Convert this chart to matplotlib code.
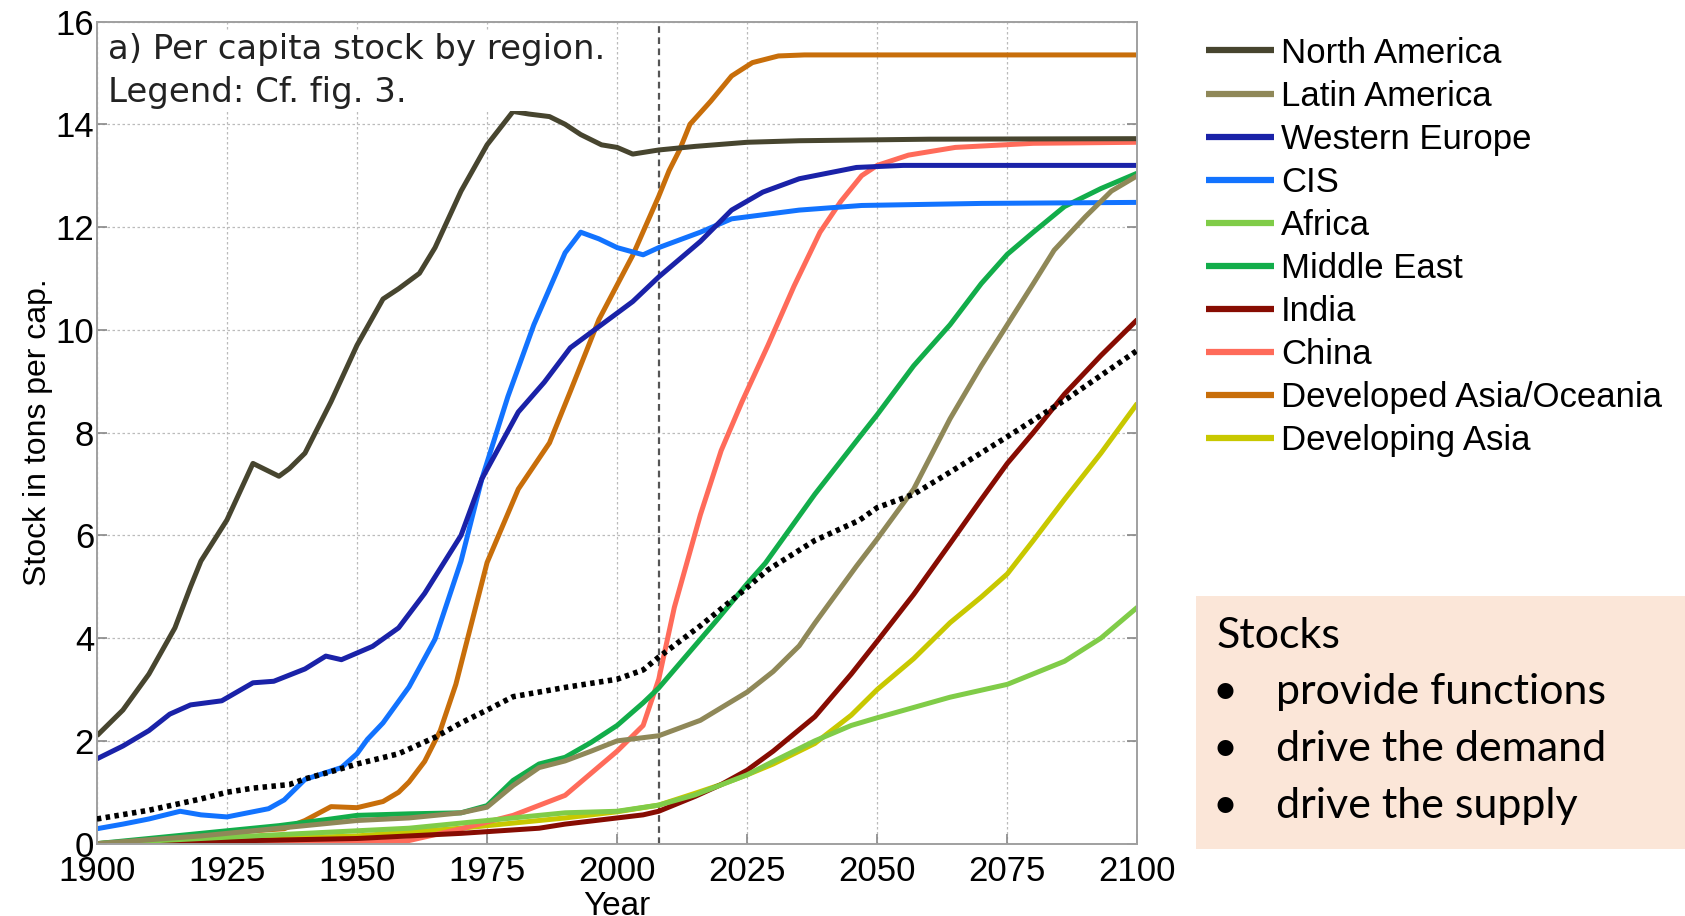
import matplotlib
matplotlib.use("Agg")
import matplotlib.pyplot as plt
from matplotlib.patches import Rectangle


# per capita stock in tons
NA_YEARS = [1900, 1905, 1910, 1915, 1918, 1920, 1925, 1930, 1932, 1935, 1937,
            1940, 1945, 1950, 1955, 1958, 1962, 1965, 1970, 1975, 1980, 1983,
            1987, 1990, 1993, 1997, 2000, 2003, 2008, 2015, 2025, 2035, 2060, 2100]
NA_VALUES = [2.1, 2.6, 3.3, 4.2, 5.0, 5.5, 6.3, 7.4, 7.3, 7.15, 7.3,
             7.6, 8.6, 9.7, 10.6, 10.8, 11.1, 11.6, 12.7, 13.6, 14.25, 14.2,
             14.15, 14.0, 13.8, 13.6, 13.55, 13.42, 13.5, 13.57, 13.65, 13.68, 13.71, 13.72]

LA_YEARS = [1900, 1920, 1940, 1950, 1960, 1970, 1975, 1980, 1985, 1990, 1995,
            2000, 2008, 2016, 2025, 2030, 2035, 2038, 2046, 2050, 2057, 2064,
            2070, 2075, 2080, 2084, 2090, 2095, 2100]
LA_VALUES = [0.0, 0.15, 0.35, 0.45, 0.5, 0.6, 0.71, 1.13, 1.48, 1.61, 1.8,
             2.0, 2.1, 2.4, 2.95, 3.35, 3.85, 4.29, 5.4, 5.93, 6.9, 8.27,
             9.3, 10.1, 10.9, 11.55, 12.2, 12.7, 13.0]

WE_YEARS = [1900, 1905, 1910, 1914, 1918, 1924, 1930, 1934, 1940, 1944, 1947,
            1953, 1958, 1963, 1970, 1974, 1981, 1986, 1991, 1995, 2003, 2008,
            2016, 2022, 2028, 2035, 2046, 2055, 2100]
WE_VALUES = [1.65, 1.9, 2.2, 2.52, 2.7, 2.78, 3.13, 3.16, 3.4, 3.65, 3.58,
             3.84, 4.2, 4.87, 6.0, 7.1, 8.4, 8.98, 9.65, 9.95, 10.55, 11.03,
             11.72, 12.33, 12.68, 12.94, 13.16, 13.2, 13.2]

CIS_YEARS = [1900, 1905, 1910, 1916, 1920, 1925, 1933, 1936, 1940, 1947, 1950,
             1952, 1955, 1960, 1965, 1970, 1974, 1979, 1984, 1990, 1993, 1996.5,
             2000, 2005, 2008, 2016, 2022, 2035, 2047, 2070, 2100]
CIS_VALUES = [0.29, 0.38, 0.48, 0.63, 0.56, 0.52, 0.68, 0.85, 1.25, 1.48, 1.75,
              2.03, 2.35, 3.05, 3.98, 5.5, 7.1, 8.7, 10.1, 11.5, 11.9, 11.77,
              11.6, 11.46, 11.6, 11.9, 12.16, 12.33, 12.42, 12.46, 12.48]

AF_YEARS = [1900, 1920, 1940, 1960, 1980, 1990, 2000, 2008, 2015, 2025, 2030,
            2038, 2045, 2050, 2064, 2075, 2086, 2093, 2100]
AF_VALUES = [0.0, 0.1, 0.2, 0.3, 0.5, 0.6, 0.63, 0.75, 0.95, 1.34, 1.6,
             2.0, 2.3, 2.45, 2.85, 3.1, 3.55, 4.0, 4.6]

ME_YEARS = [1900, 1920, 1935, 1945, 1950, 1960, 1970, 1975, 1980, 1985, 1990,
            1995, 2000, 2005, 2008, 2019, 2025, 2028.5, 2038, 2046.5, 2050,
            2057, 2064, 2070, 2075, 2080, 2086, 2093, 2100]
ME_VALUES = [0.0, 0.2, 0.35, 0.48, 0.55, 0.58, 0.6, 0.74, 1.23, 1.55, 1.68,
             1.97, 2.3, 2.74, 3.03, 4.33, 5.06, 5.46, 6.8, 7.9, 8.35,
             9.3, 10.1, 10.9, 11.47, 11.9, 12.4, 12.75, 13.05]

IN_YEARS = [1900, 1950, 1970, 1985, 1990, 2000, 2005, 2008, 2015, 2020, 2025,
            2030, 2038, 2045, 2050, 2057, 2064, 2070, 2075, 2080, 2086, 2093, 2100]
IN_VALUES = [0.0, 0.1, 0.2, 0.3, 0.38, 0.5, 0.56, 0.63, 0.92, 1.15, 1.43,
             1.8, 2.47, 3.3, 3.94, 4.85, 5.84, 6.7, 7.4, 8.0, 8.75, 9.5, 10.2]

CN_YEARS = [1900, 1950, 1960, 1970, 1980, 1990, 2000, 2005, 2008, 2011, 2016,
            2020, 2024, 2029, 2034, 2039, 2043, 2047, 2050, 2056, 2065, 2080, 2100]
CN_VALUES = [0.0, 0.02, 0.06, 0.29, 0.55, 0.94, 1.8, 2.3, 3.2, 4.6, 6.4,
             7.65, 8.6, 9.7, 10.85, 11.9, 12.5, 13.0, 13.2, 13.4, 13.55, 13.63, 13.65]

DA_YEARS = [1900, 1910, 1920, 1930, 1936, 1940, 1945, 1950, 1955, 1958, 1960,
            1963, 1966, 1969, 1975, 1981, 1987, 1991, 1996.5, 2003, 2008, 2010,
            2012, 2014, 2018, 2022, 2026, 2031, 2036, 2100]
DA_VALUES = [0.0, 0.05, 0.15, 0.25, 0.29, 0.45, 0.72, 0.7, 0.82, 1.0, 1.2,
             1.6, 2.2, 3.1, 5.47, 6.9, 7.8, 8.8, 10.2, 11.45, 12.6, 13.1,
             13.5, 14.0, 14.45, 14.94, 15.2, 15.33, 15.35, 15.35]

DV_YEARS = [1900, 1950, 1970, 1990, 2000, 2008, 2015, 2020, 2025, 2030, 2038,
            2045, 2050, 2057, 2064, 2070, 2075, 2080, 2086, 2093, 2100]
DV_VALUES = [0.0, 0.15, 0.3, 0.5, 0.62, 0.75, 0.98, 1.15, 1.34, 1.55, 1.95,
             2.5, 3.0, 3.6, 4.3, 4.8, 5.25, 5.9, 6.7, 7.6, 8.57]

WORLD_YEARS = [1900, 1910, 1920, 1925, 1930, 1937, 1940, 1945, 1950, 1958, 1965,
               1970, 1975, 1980, 1990, 2000, 2005, 2008, 2016, 2024, 2029, 2038,
               2046.5, 2050, 2057, 2064, 2075, 2086.5, 2100]
WORLD_VALUES = [0.48, 0.65, 0.87, 1.0, 1.08, 1.15, 1.26, 1.4, 1.55, 1.75, 2.07,
                2.35, 2.6, 2.86, 3.04, 3.2, 3.38, 3.63, 4.24, 4.9, 5.33, 5.9,
                6.29, 6.54, 6.8, 7.23, 7.92, 8.66, 9.6]

REGIONS = [
    ("North America", NA_YEARS, NA_VALUES, "#47452f"),
    ("Latin America", LA_YEARS, LA_VALUES, "#8f8858"),
    ("Western Europe", WE_YEARS, WE_VALUES, "#1a22a8"),
    ("CIS", CIS_YEARS, CIS_VALUES, "#1273ff"),
    ("Africa", AF_YEARS, AF_VALUES, "#80cc48"),
    ("Middle East", ME_YEARS, ME_VALUES, "#12ad4a"),
    ("India", IN_YEARS, IN_VALUES, "#870c02"),
    ("China", CN_YEARS, CN_VALUES, "#ff6b5a"),
    ("Developed Asia/Oceania", DA_YEARS, DA_VALUES, "#c86e0a"),
    ("Developing Asia", DV_YEARS, DV_VALUES, "#c8c800"),
]

X_TICKS = [1900, 1925, 1950, 1975, 2000, 2025, 2050, 2075, 2100]
Y_TICKS = [0, 2, 4, 6, 8, 10, 12, 14, 16]
MARK_YEAR = 2008

BULLETS = ["provide functions", "drive the demand", "drive the supply"]


def main():
    plt.rcParams["font.family"] = ["Liberation Sans", "DejaVu Sans"]

    fig = plt.figure(figsize=(16.85, 9.16), dpi=100)
    ax = fig.add_axes([0.0575, 0.079, 0.6175, 0.8975])

    handles = []
    # draw in reverse order so North America sits on top
    for name, years, values, color in reversed(REGIONS):
        (line,) = ax.plot(years, values, color=color, linewidth=3.6,
                          label=name, solid_capstyle="butt",
                          solid_joinstyle="round")
        handles.insert(0, line)

    ax.plot(WORLD_YEARS, WORLD_VALUES, color="black", linewidth=4,
            linestyle=(0, (0.8, 0.8)), zorder=5)

    ax.axvline(MARK_YEAR, color="#555555", linewidth=1.6,
               linestyle=(0, (3, 2)), zorder=1)

    ax.set_xlim(X_TICKS[0], X_TICKS[-1])
    ax.set_ylim(Y_TICKS[0], Y_TICKS[-1])
    ax.set_xticks(X_TICKS)
    ax.set_yticks(Y_TICKS)
    ax.tick_params(direction="in", length=7, width=1.2, color="#888888",
                   labelsize=25, top=False, right=True, pad=2)
    ax.tick_params(axis="x", pad=8)
    ax.grid(True, color="#bbbbbb", linestyle=(0, (2, 2)), linewidth=0.9)
    ax.set_axisbelow(True)

    for spine in ax.spines.values():
        spine.set_color("#a0a0a0")
        spine.set_linewidth(1.4)

    ax.set_ylabel("Stock in tons per cap.", fontsize=23, labelpad=2)
    ax.set_xlabel("Year", fontsize=24, labelpad=2)

    ax.text(0.011, 0.986, "a) Per capita stock by region.\nLegend: Cf. fig. 3.",
            transform=ax.transAxes, ha="left", va="top", fontsize=24.5,
            family="DejaVu Sans", color="#222222", linespacing=1.4,
            bbox=dict(facecolor="white", edgecolor="none", pad=1))

    fig.legend(handles=handles, loc="upper left",
               bbox_to_anchor=(0.716, 0.96), frameon=False, fontsize=25,
               handlelength=1.95, handletextpad=0.2, labelspacing=0.29,
               borderpad=0, borderaxespad=0)
    for legend_line in fig.legends[0].get_lines():
        legend_line.set_linewidth(4.5)

    box = Rectangle((0.71, 0.073), 0.29, 0.276, transform=fig.transFigure,
                    facecolor="#fbe6d8", edgecolor="none")
    fig.patches.append(box)

    fig.text(0.722, 0.306, "Stocks", fontsize=31, family="Lato",
             ha="left", va="center")
    for index, item in enumerate(BULLETS):
        y = 0.244 - index * 0.062
        fig.text(0.727, y, "\u2022", fontsize=31, family="Lato",
                 ha="center", va="center")
        fig.text(0.757, y, item, fontsize=31, family="Lato",
                 ha="left", va="center")

    fig.savefig("out.png", dpi=100)
    plt.close(fig)


if __name__ == "__main__":
    main()
